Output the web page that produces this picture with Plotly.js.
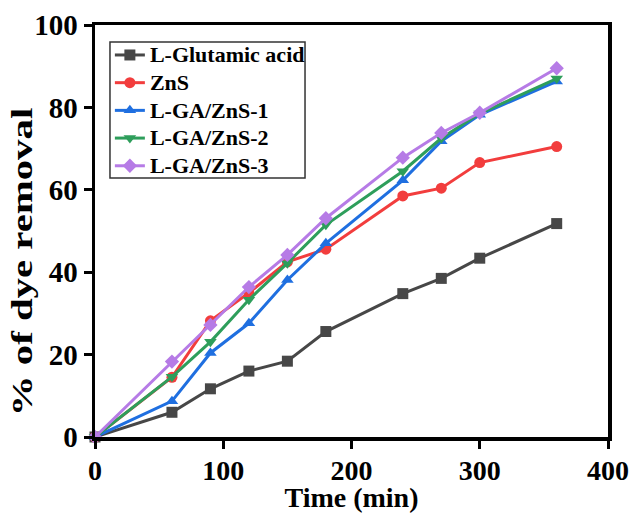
<!DOCTYPE html>
<html>
<head>
<meta charset="utf-8">
<script src="https://cdn.plot.ly/plotly-3.0.1.min.js"></script>
<style>
html,body{margin:0;padding:0;background:#fff}
#chart{width:633px;height:515px}
g.g-ytitle{transform-box:fill-box;transform-origin:center;transform:translate(13px,31px) scaleY(1.36)}
g.g-xtitle{transform:translate(0px,3px)}
text.legendtext{font-size:22px !important}
</style>
</head>
<body>
<div id="chart"></div>
<script>
var time = [0, 60, 90, 120, 150, 180, 240, 270, 300, 360];
var seriesNames = ["L-Glutamic acid", "ZnS", "L-GA/ZnS-1", "L-GA/ZnS-2", "L-GA/ZnS-3"];
var glutamic = [0, 6.0, 11.7, 16.0, 18.4, 25.6, 34.8, 38.5, 43.4, 51.8];
var zns      = [0, 14.5, 28.2, 35.0, 42.5, 45.6, 58.5, 60.4, 66.6, 70.5];
var ga1      = [0, 8.7, 20.4, 27.6, 38.1, 47.0, 62.3, 71.8, 78.2, 86.3];
var ga2      = [0, 14.6, 23.1, 33.3, 42.2, 51.5, 64.5, 72.5, 78.5, 87.0];
var ga3      = [0, 18.3, 27.2, 36.4, 44.2, 53.1, 67.8, 73.8, 78.7, 89.5];
var xTicks = [0, 100, 200, 300, 400];
var yTicks = [0, 20, 40, 60, 80, 100];

var colors = ["#474747", "#f23d3d", "#1f6fe0", "#2e9e5b", "#b67be6"];
var symbols = ["square", "circle", "triangle-up", "triangle-down", "diamond"];
var values = [glutamic, zns, ga1, ga2, ga3];

var traces = values.map(function(v, i) {
  return {
    x: time, y: v, name: seriesNames[i], type: "scatter", mode: "lines+markers",
    line: {color: colors[i], width: 3},
    marker: {color: colors[i], symbol: symbols[i], size: 11},
    cliponaxis: false
  };
});

var fontFam = "Liberation Serif, Times New Roman, serif";
var layout = {
  width: 633, height: 515,
  margin: {l: 95, r: 25, t: 25, b: 78},
  paper_bgcolor: "#fff", plot_bgcolor: "#fff",
  font: {family: fontFam, color: "#000", size: 29, weight: 700},
  showlegend: true,
  legend: {
    x: 0.029, y: 0.973, xanchor: "left", yanchor: "top",
    bgcolor: "rgba(0,0,0,0)", borderwidth: 0,
    font: {family: fontFam, size: 19, color: "#000", weight: 700},
    tracegroupgap: 0, itemwidth: 30
  },
  shapes: [{
    type: "rect", xref: "paper", yref: "paper", layer: "above",
    x0: 0.0292, x1: 0.4094, y0: 0.6286, y1: 0.9587,
    line: {color: "#333", width: 1.5}, fillcolor: "#fff"
  }],
  xaxis: {
    range: [0, 400], tickvals: xTicks, ticktext: xTicks.map(String),
    showgrid: false, zeroline: false, showline: true, mirror: true,
    linecolor: "#000", linewidth: 3.5, ticks: "outside", ticklen: 8, tickwidth: 3, tickcolor: "#000",
    tickfont: {family: fontFam, size: 28, weight: 700}, ticklabelstandoff: -2,
    title: {text: "Time (min)", font: {family: fontFam, size: 28, weight: 700}, standoff: 0}
  },
  yaxis: {
    range: [0, 100], tickvals: yTicks, ticktext: yTicks.map(String),
    showgrid: false, zeroline: false, showline: true, mirror: true,
    linecolor: "#000", linewidth: 3.5, ticks: "outside", ticklen: 8, tickwidth: 3, tickcolor: "#000",
    tickfont: {family: fontFam, size: 29, weight: 700},
    title: {text: "% of dye removal", font: {family: fontFam, size: 30, weight: 700}, standoff: 6}
  }
};
Plotly.newPlot("chart", traces, layout, {displayModeBar: false, staticPlot: true});
</script>
</body>
</html>
